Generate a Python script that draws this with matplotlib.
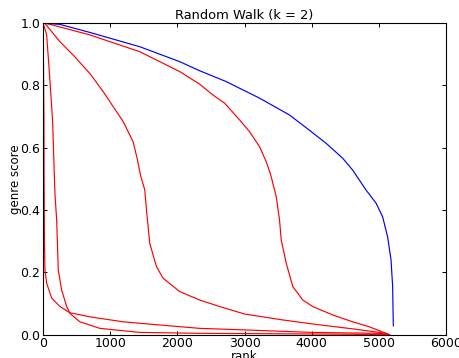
import matplotlib
matplotlib.use('Agg')
import matplotlib.pyplot as plt

# blue walk
blue_x = [0, 248, 697, 1441, 2036, 2331, 2728, 3223, 3668, 3965, 4214, 4461, 4609, 4808, 4957, 5055, 5129, 5180, 5204, 5214]
blue_y = [1.0, 0.996, 0.970, 0.924, 0.876, 0.847, 0.812, 0.759, 0.705, 0.656, 0.614, 0.566, 0.528, 0.464, 0.422, 0.378, 0.314, 0.240, 0.154, 0.028]

# red walks
red_a_x = [0, 8, 13, 14, 20, 28, 53, 128, 251, 400, 697, 1192, 1836, 2331, 3000, 4000, 5006, 5160]
red_a_y = [1.0, 0.8, 0.685, 0.53, 0.3, 0.207, 0.165, 0.117, 0.090, 0.070, 0.057, 0.041, 0.029, 0.020, 0.015, 0.007, 0.004, 0.0]

red_b_x = [0, 53, 103, 142, 167, 177, 202, 226, 276, 351, 400, 548, 845, 1440, 2331, 4000, 5150]
red_b_y = [1.0, 0.962, 0.812, 0.684, 0.512, 0.45, 0.368, 0.207, 0.143, 0.090, 0.068, 0.041, 0.020, 0.007, 0.004, 0.002, 0.0]

red_c_x = [0, 28, 251, 449, 697, 895, 1043, 1192, 1340, 1400, 1450, 1514, 1539, 1588, 1688, 1786, 2034, 2331, 2629, 3000, 3569, 4015, 4660, 5105, 5150]
red_c_y = [1.0, 0.999, 0.940, 0.897, 0.838, 0.780, 0.732, 0.684, 0.619, 0.566, 0.512, 0.464, 0.400, 0.293, 0.218, 0.181, 0.138, 0.111, 0.090, 0.066, 0.047, 0.034, 0.017, 0.004, 0.0]

red_d_x = [0, 103, 697, 1441, 2036, 2331, 2529, 2703, 2926, 3075, 3223, 3322, 3386, 3471, 3520, 3545, 3620, 3718, 3866, 4015, 4312, 4609, 4857, 5105, 5150]
red_d_y = [1.0, 0.996, 0.962, 0.908, 0.844, 0.804, 0.769, 0.743, 0.689, 0.651, 0.603, 0.555, 0.515, 0.443, 0.368, 0.304, 0.229, 0.154, 0.111, 0.090, 0.063, 0.041, 0.025, 0.004, 0.0]

plt.rcParams['xtick.direction'] = 'in'
plt.rcParams['ytick.direction'] = 'in'

fig = plt.figure(figsize=(4.6, 3.58), dpi=100, facecolor='white')
ax = fig.add_axes([0.0937, 0.0654, 0.8761, 0.8701])

for x, y in [(red_a_x, red_a_y), (red_b_x, red_b_y), (red_c_x, red_c_y), (red_d_x, red_d_y)]:
    ax.plot(x, y, color='#ff0000', lw=0.85)
ax.plot(blue_x, blue_y, color='#0000ff', lw=0.85)

ax.set_xlim(0, 6000)
ax.set_ylim(0, 1.0)
ax.set_xticks([0, 1000, 2000, 3000, 4000, 5000, 6000])
ax.set_yticks([0.0, 0.2, 0.4, 0.6, 0.8, 1.0])
ax.tick_params(top=True, right=True, labelsize=9, length=3, width=0.7, pad=2)
for s in ax.spines.values():
    s.set_linewidth(0.8)

ax.set_title('Random Walk (k = 2)', fontsize=9.4, pad=3)
ax.set_xlabel('rank', fontsize=8.5, labelpad=0)
ax.set_ylabel('genre score', fontsize=8.5, labelpad=-1)

fig.savefig('out.png', dpi=100, facecolor='white')
